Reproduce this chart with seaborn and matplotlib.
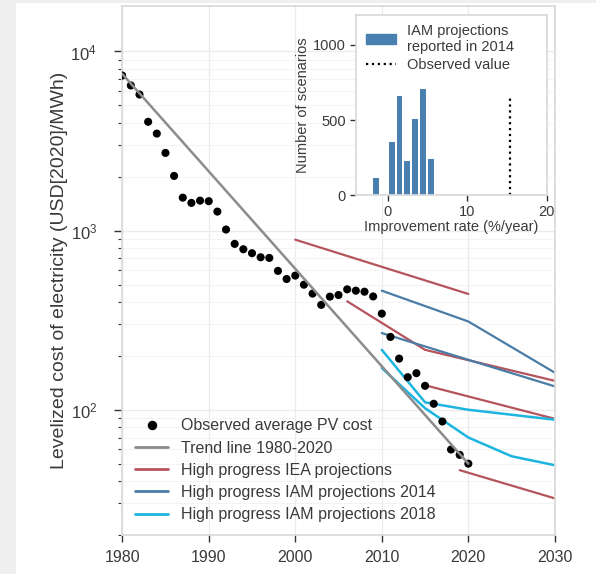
import numpy as np
import pandas as pd
import matplotlib.pyplot as plt
import seaborn as sns
from matplotlib.lines import Line2D
from matplotlib.patches import Patch, Rectangle

# observed average PV cost (USD2020/MWh)
obs_years = list(range(1980, 2021))
obs_cost = [7340, 6460, 5750, 4050, 3480, 2715, 2020, 1527, 1428, 1470,
            1460, 1277, 1014, 843, 787, 748, 710, 704, 596, 537,
            561, 499, 445, 385, 428, 437, 470, 462, 456, 429,
            344, 255, 193, 152, 160, 136, 108, 86, 60, 56, 50]

trend_years = [1980, 2020]
trend_cost = [7500, 50]

iea_years = [[2000, 2020], [2006, 2015, 2030], [2015, 2030], [2019, 2030]]
iea_cost = [[890, 443], [403, 216, 145], [137, 89], [46, 32]]

iam14_years = [[2010, 2020, 2030], [2010, 2020, 2030]]
iam14_cost = [[462, 311, 161], [268, 190, 135]]

iam18_years = [[2010, 2015, 2020, 2030], [2010, 2015, 2020, 2025, 2030]]
iam18_cost = [[216, 110, 100, 88], [171, 102, 70, 55, 49]]

# inset: improvement rates of IAM projections reported in 2014
rate_bins = [-1.5, 0.5, 1.5, 2.5, 3.5, 4.5, 5.5]
n_scenarios = [111, 355, 660, 227, 507, 709, 240]
observed_rate = 15.4
observed_line_top = 670

c_trend = '#8c8c8c'
c_iea = '#b5545c'
c_iam14 = '#4a7ca6'
c_iam18 = '#1cb5e0'
c_bar = '#4a80b0'
txt = '#3a3a3a'

rows = []
for name, ys, cs in [('Trend line 1980-2020', [trend_years], [trend_cost]),
                     ('High progress IEA projections', iea_years, iea_cost),
                     ('High progress IAM projections 2014', iam14_years, iam14_cost),
                     ('High progress IAM projections 2018', iam18_years, iam18_cost)]:
    for i, (yy, cc) in enumerate(zip(ys, cs)):
        for y, c in zip(yy, cc):
            rows.append({'group': name, 'line': f'{name}_{i}', 'year': y, 'cost': c})
lines = pd.DataFrame(rows)
obs = pd.DataFrame({'year': obs_years, 'cost': obs_cost})
hist = pd.DataFrame({'rate': rate_bins, 'n': n_scenarios})

sns.set_theme(style='whitegrid')
plt.rcParams['font.family'] = ['Liberation Sans', 'DejaVu Sans']
plt.rcParams['mathtext.default'] = 'regular'

fig = plt.figure(figsize=(5.96, 5.74), dpi=100)
fig.patch.set_facecolor('#efefef')
fig.patches.append(Rectangle((16 / 596, 0), 1, 1 - 3 / 574, transform=fig.transFigure,
                             facecolor='white', edgecolor='none', zorder=-10))

ax = fig.add_axes([0.205, 0.068, 0.726, 0.922])
palette = {'Trend line 1980-2020': c_trend,
           'High progress IEA projections': c_iea,
           'High progress IAM projections 2014': c_iam14,
           'High progress IAM projections 2018': c_iam18}
sns.scatterplot(data=obs, x='year', y='cost', color='black', s=34,
                edgecolor='none', ax=ax, zorder=3, legend=False)
for g, w in [('High progress IEA projections', 1.6),
             ('High progress IAM projections 2014', 1.6),
             ('High progress IAM projections 2018', 1.8),
             ('Trend line 1980-2020', 1.8)]:
    sub = lines[lines['group'] == g]
    sns.lineplot(data=sub, x='year', y='cost', units='line', estimator=None,
                 color=palette[g], lw=w, ax=ax, zorder=4 if 'Trend' in g else 2,
                 legend=False)

ax.set_yscale('log')
ax.set_xlim(1980, 2030)
ax.set_ylim(20, 18000)
ax.set_xticks([1980, 1990, 2000, 2010, 2020, 2030])
ax.set_xlabel('')
ax.set_ylabel('Levelized cost of electricity (USD[2020]/MWh)', fontsize=14, color=txt, labelpad=2)
ax.grid(True, which='major', color='#ebebeb', lw=0.9)
ax.grid(True, which='minor', axis='y', color='#f3f3f3', lw=0.7)
ax.tick_params(axis='x', which='major', length=5, width=1, color='#333333',
               labelsize=11.5, labelcolor=txt, pad=6, bottom=True)
ax.tick_params(axis='y', which='major', length=6, width=1, color='#333333',
               labelsize=12, labelcolor=txt, pad=12, left=True)
ax.tick_params(axis='y', which='minor', length=3, width=0.8, color='#333333', left=True)
ax.yaxis.set_minor_formatter(plt.NullFormatter())
for sp in ax.spines.values():
    sp.set_color('#d9d9d9')

handles = [Line2D([], [], marker='o', ls='none', color='black', markersize=5.8),
           Line2D([], [], color=c_trend, lw=2),
           Line2D([], [], color=c_iea, lw=2),
           Line2D([], [], color=c_iam14, lw=2),
           Line2D([], [], color=c_iam18, lw=2)]
labels = ['Observed average PV cost', 'Trend line 1980-2020',
          'High progress IEA projections', 'High progress IAM projections 2014',
          'High progress IAM projections 2018']
leg = ax.legend(handles, labels, loc='lower left', frameon=False, fontsize=11.5,
                handlelength=2.1, labelspacing=0.45, borderaxespad=0.4)
for t in leg.get_texts():
    t.set_color(txt)

# inset histogram
ins = fig.add_axes([0.597, 0.660, 0.320, 0.314])
sns.histplot(data=hist, x='rate', weights='n', binwidth=1, binrange=(-2, 6), shrink=0.75,
             color=c_bar, alpha=1, edgecolor='none', ax=ins)
ins.vlines(observed_rate, 0, observed_line_top, colors='black', linestyles=':', lw=1.6)
ins.set_xlim(-4, 20)
ins.set_ylim(0, 1200)
ins.set_xticks([0, 10, 20])
ins.set_yticks([0, 500, 1000])
ins.grid(False)
ins.set_xlabel('Improvement rate (%/year)', fontsize=10.5, color=txt, labelpad=1)
ins.set_ylabel('Number of scenarios', fontsize=10.5, color=txt, labelpad=2)
ins.tick_params(length=4, width=1, color='#333333', labelsize=10.5, labelcolor=txt,
                pad=3, left=True, bottom=True)
for sp in ins.spines.values():
    sp.set_color('#d9d9d9')
ih = [Patch(color=c_bar), Line2D([], [], color='black', ls=':', lw=1.6)]
il = ins.legend(ih, ['IAM projections\nreported in 2014', 'Observed value'], loc='upper left',
                frameon=False, fontsize=10.5, handlelength=2.0, labelspacing=0.3,
                borderaxespad=0.2, bbox_to_anchor=(0.01, 1.0))
for t in il.get_texts():
    t.set_color(txt)

fig.savefig('out.png', dpi=100, facecolor=fig.get_facecolor())
